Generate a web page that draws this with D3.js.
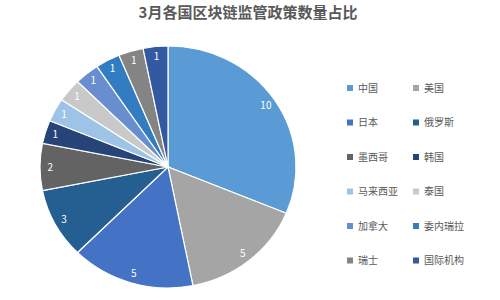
<!DOCTYPE html>
<html>
<head>
<meta charset="utf-8">
<script src="https://cdn.jsdelivr.net/npm/d3@7"></script>
<style>
  body { margin: 0; background: #fff; }
  text { font-family: "Noto Sans CJK SC", "Noto Sans", sans-serif; }
</style>
</head>
<body>
<div id="chart"></div>
<script>
// data
const countries = ["中国", "美国", "日本", "俄罗斯", "墨西哥", "韩国",
                   "马来西亚", "泰国", "加拿大", "委内瑞拉", "瑞士", "国际机构"];
const counts = [10, 5, 5, 3, 2, 1, 1, 1, 1, 1, 1, 1];
const colors = ["#5b9bd5", "#a5a5a5", "#4472c4", "#255e91", "#636363", "#264478",
                "#9dc3e6", "#c9c9c9", "#698ed0", "#327dc2", "#848484", "#335aa1"];
const title = "3月各国区块链监管政策数量占比";

const width = 500, height = 300;
const cx = 168, cy = 167, r = 121, sx = 128 / 121;

const svg = d3.select("#chart").append("svg")
  .attr("width", width)
  .attr("height", height);

svg.append("text")
  .attr("x", 248)
  .attr("y", 18)
  .attr("text-anchor", "middle")
  .style("font-size", "15px")
  .style("font-weight", "bold")
  .style("fill", "#595959")
  .text(title);

const data = countries.map((c, i) => ({name: c, value: counts[i]}));

const color = d3.scaleOrdinal().domain(countries).range(colors);

const pie = d3.pie().value(d => d.value).sort(null);
const arc = d3.arc().innerRadius(0).outerRadius(r);
const labelArc = d3.arc().innerRadius(r * 0.92).outerRadius(r * 0.92);

// the pie in the picture is slightly wider than tall
const g = svg.append("g")
  .attr("transform", `translate(${cx},${cy}) scale(${sx},1)`);

const arcs = pie(data);

g.selectAll("path")
  .data(arcs)
  .join("path")
    .attr("d", arc)
    .attr("fill", d => color(d.data.name))
    .attr("stroke", "#fff")
    .attr("stroke-width", 1.2)
    .attr("vector-effect", "non-scaling-stroke");

// value labels (placed outside the scaled group so text is not stretched)
svg.append("g")
  .selectAll("text")
  .data(arcs)
  .join("text")
    .attr("x", d => cx + labelArc.centroid(d)[0] * sx)
    .attr("y", d => cy + labelArc.centroid(d)[1])
    .attr("text-anchor", "middle")
    .attr("dy", "0.35em")
    .style("font-size", "10px")
    .style("fill", "#fff")
    .text(d => d.data.value);

// legend: two columns
const legend = svg.append("g")
  .selectAll("g")
  .data(data)
  .join("g")
    .attr("transform", (d, i) => `translate(${350 + (i % 2) * 66},${88 + Math.floor(i / 2) * 34.5})`);

legend.append("rect")
  .attr("x", -3)
  .attr("y", -3)
  .attr("width", 6)
  .attr("height", 6)
  .attr("fill", d => color(d.name));

legend.append("text")
  .attr("x", 8)
  .attr("dy", "0.35em")
  .style("font-size", "10px")
  .style("fill", "#595959")
  .text(d => d.name);
</script>
</body>
</html>
